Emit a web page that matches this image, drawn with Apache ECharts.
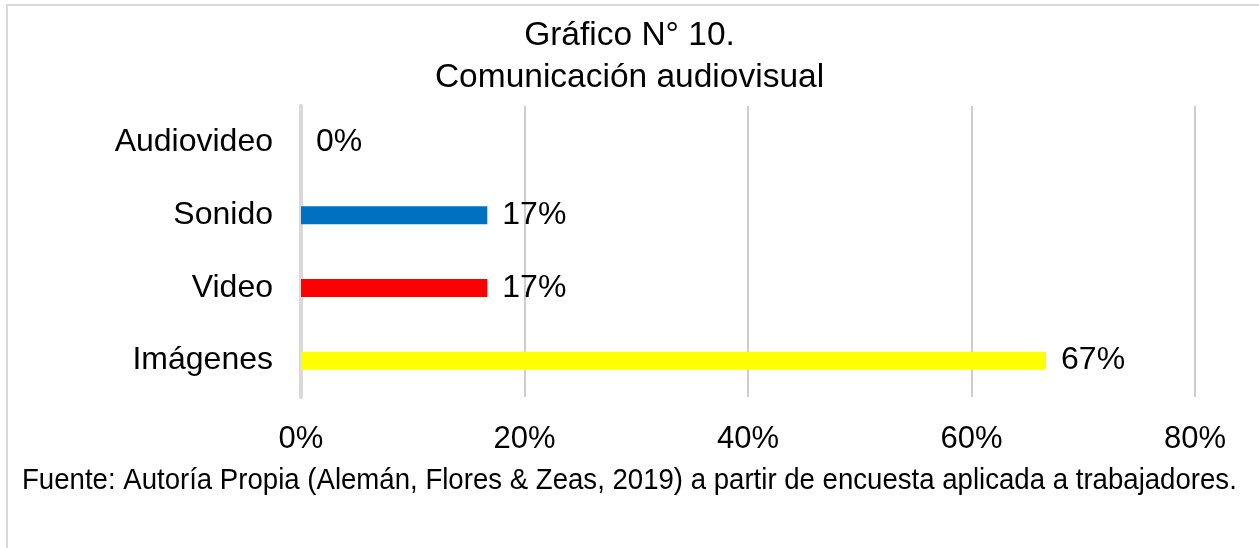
<!DOCTYPE html>
<html>
<head>
<meta charset="utf-8">
<script src="https://cdn.jsdelivr.net/npm/echarts@6/dist/echarts.min.js"></script>
<style>
  html, body { margin: 0; padding: 0; background: #fff; }
  #chart { width: 1259px; height: 548px; }
</style>
</head>
<body>
<div id="chart"></div>
<script>
// datos (porcentaje)
const categorias = ['Audiovideo', 'Sonido', 'Video', 'Imágenes']
const valores = [0, 16.67, 16.67, 66.67]
const colores = ['#7f7f7f', '#0070C0', '#FF0000', '#FFFF00']
const ticksX = [0, 20, 40, 60, 80]
const titulo = ['Gráfico N° 10.', 'Comunicación audiovisual']
const fuente = 'Fuente: Autoría Propia (Alemán, Flores & Zeas, 2019) a partir de encuesta aplicada a trabajadores.'

const font = 'Liberation Sans, Arial, sans-serif'
const chart = echarts.init(document.getElementById('chart'), null, {renderer: 'canvas'})

let option = {
  backgroundColor: '#fff',
  animation: false,
  title: {
    text: titulo.join('\n'),
    left: 'center',
    top: 10,
    textStyle: {
      fontFamily: font,
      fontWeight: 'normal',
      fontSize: 33.5,
      lineHeight: 42,
      color: '#000'
    }
  },
  grid: {
    left: 301,
    right: 64,
    top: 106,
    height: 291
  },
  xAxis: {
    type: 'value',
    min: ticksX[0],
    max: ticksX[ticksX.length - 1],
    interval: 20,
    axisLine: {show: false},
    axisTick: {show: false},
    splitLine: {
      show: true,
      lineStyle: {color: '#cdcdcd', width: 2}
    },
    axisLabel: {
      margin: 27,
      fontFamily: font,
      fontSize: 31,
      color: '#000',
      formatter: v => v + '%'
    }
  },
  yAxis: {
    type: 'category',
    inverse: true,
    data: categorias,
    axisTick: {show: false},
    axisLine: {
      show: true,
      lineStyle: {color: '#d9d9d9', width: 4}
    },
    axisLabel: {
      margin: 28,
      fontFamily: font,
      fontSize: 32,
      color: '#000'
    }
  },
  series: [{
    type: 'bar',
    barWidth: 18,
    data: valores.map((v, i) => ({
      value: v,
      itemStyle: {color: colores[i]}
    })),
    label: {
      show: true,
      position: 'right',
      distance: 15,
      fontFamily: font,
      fontSize: 32,
      color: '#000',
      formatter: p => Math.round(p.value) + '%'
    }
  }],
  graphic: [
    { // marco del gráfico
      type: 'rect',
      silent: true,
      shape: {x: 7, y: 5, width: 1262, height: 560},
      style: {fill: null, stroke: '#d9d9d9', lineWidth: 2}
    },
    { // fuente
      type: 'text',
      x: 22,
      y: 481,
      scaleY: 1.1,
      style: {
        text: fuente,
        font: '27.6px ' + font,
        fill: '#000',
        textVerticalAlign: 'middle',
        verticalAlign: 'middle'
      }
    }
  ]
}

chart.setOption(option)
</script>
</body>
</html>
